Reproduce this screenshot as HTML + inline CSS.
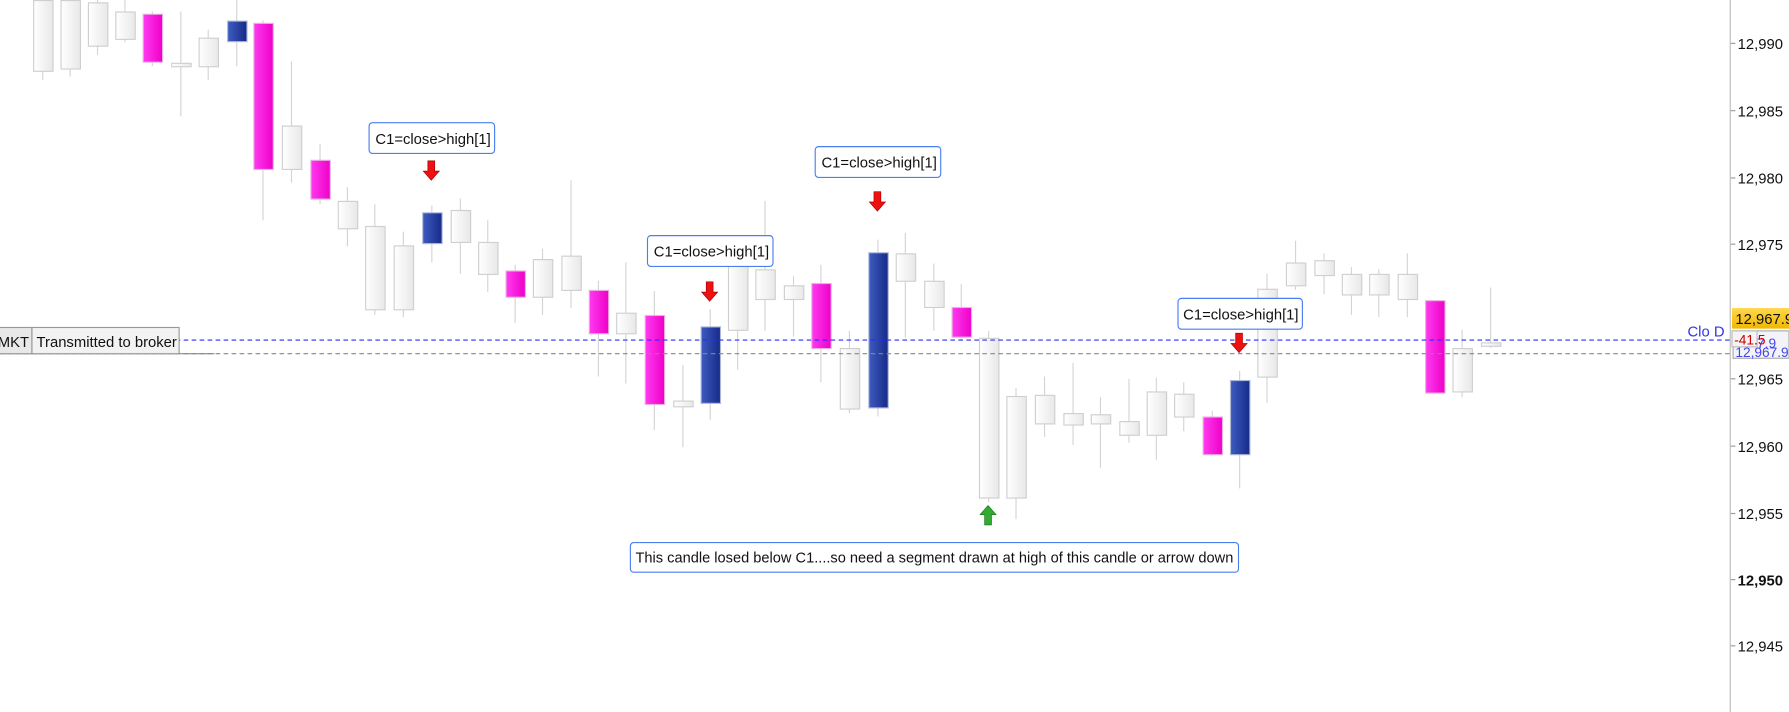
<!DOCTYPE html>
<html><head><meta charset="utf-8"><style>
html,body{margin:0;padding:0;background:#fff;overflow:hidden}
svg{display:block;font-family:"Liberation Sans",Arial,sans-serif}
</style></head><body>
<svg id="s" width="1789" height="712" viewBox="0 0 1568 624" preserveAspectRatio="none" xmlns="http://www.w3.org/2000/svg">
<defs>
<linearGradient id="gw" x1="0" x2="1"><stop offset="0" stop-color="#ffffff"/><stop offset="1" stop-color="#e8e8e8"/></linearGradient>
<linearGradient id="gm" x1="0" x2="1"><stop offset="0" stop-color="#ff3af0"/><stop offset="1" stop-color="#ee00c8"/></linearGradient>
<linearGradient id="gb" x1="0" x2="1"><stop offset="0" stop-color="#3d5cc0"/><stop offset="1" stop-color="#162a88"/></linearGradient>
<linearGradient id="gy" x1="0" x2="0" y1="0" y2="1"><stop offset="0" stop-color="#ffd84a"/><stop offset="1" stop-color="#f0b800"/></linearGradient>
</defs>
<rect width="1568" height="624" fill="#fff"/>
<g id="c"></g>
<line x1="0" y1="298" x2="1517" y2="298" stroke="#2a2aff" stroke-dasharray="4,3" stroke-width="1"/>
<line x1="0" y1="310" x2="1517" y2="310" stroke="#888" stroke-dasharray="4,3" stroke-width="1"/>
<line x1="0" y1="310" x2="188" y2="310" stroke="#888" stroke-width="1"/>
<text x="1479" y="295" font-size="13" fill="#3333ee">Clo D</text>
<rect x="-4" y="287" width="32" height="23" fill="#e8e8e8" stroke="#999"/>
<text x="-2" y="304" font-size="13" fill="#111">MKT</text>
<rect x="28" y="287" width="129" height="23" fill="#f2f2f2" stroke="#999"/>
<text x="32" y="304" font-size="13" fill="#111">Transmitted to broker</text>
<line x1="1516.5" y1="0" x2="1516.5" y2="624" stroke="#bbb"/>
<g font-size="13" fill="#111" id="ax"></g>
<rect x="1518" y="270" width="50" height="18" fill="url(#gy)"/>
<text x="1521" y="284" font-size="13" fill="#111">12,967.9</text>
<rect x="1519" y="290" width="49" height="24" fill="#f4f4f8" stroke="#aaa"/>
<text x="1540" y="305" font-size="12" fill="#4444ee">7.9</text>
<text x="1521" y="313" font-size="12" fill="#4444ee">12,967.9</text>
<rect x="1518" y="290" width="22" height="14" fill="#f4f4f4" stroke="#bbb"/>
<text x="1520" y="302" font-size="12" fill="#cc0000">-41.5</text>
<g font-size="13" fill="#111">
<rect x="323.5" y="107.5" width="110" height="27" rx="3" fill="#fff" stroke="#4a7ff0"/><text x="329" y="126">C1=close&gt;high[1]</text>
<rect x="714.5" y="128.5" width="110" height="27" rx="3" fill="#fff" stroke="#4a7ff0"/><text x="720" y="147">C1=close&gt;high[1]</text>
<rect x="567.5" y="206.5" width="110" height="27" rx="3" fill="#fff" stroke="#4a7ff0"/><text x="573" y="225">C1=close&gt;high[1]</text>
<rect x="1032.5" y="261.5" width="109" height="27" rx="3" fill="#fff" stroke="#4a7ff0"/><text x="1037" y="280">C1=close&gt;high[1]</text>
<rect x="552.5" y="475.5" width="533" height="26" rx="3" fill="#fff" stroke="#4a7ff0"/><text x="557" y="493" textLength="524" lengthAdjust="spacingAndGlyphs">This candle losed below C1....so need a segment drawn at high of this candle or arrow down</text>
</g>
<g id="ar"></g>
</svg>
<script>
var C=[[37,0,62,-5,70,'w'],[61,0,60,-5,67,'w'],[85,2,40,-5,48,'w'],[109,10,34,0,37,'w'],[133,12,54,10,58,'m'],[158,55,58,10,102,'w'],[182,33,58,26,70,'w'],[207,18,36,0,58,'b'],[230,20,148,18,193,'m'],[255,110,148,54,160,'w'],[280,140,174,126,179,'m'],[304,176,200,164,216,'w'],[328,198,271,179,276,'w'],[353,215,271,203,278,'w'],[378,186,213,180,230,'b'],[403,184,212,174,240,'w'],[427,212,240,193,256,'w'],[451,237,260,232,283,'m'],[475,227,260,218,276,'w'],[500,224,254,158,270,'w'],[524,254,292,246,330,'m'],[548,274,292,230,336,'w'],[573,276,354,255,377,'m'],[598,351,356,320,392,'w'],[622,286,353,271,368,'b'],[646,233,289,222,324,'w'],[670,236,262,176,290,'w'],[695,250,262,242,295,'w'],[719,248,305,232,335,'m'],[744,305,358,290,362,'w'],[769,221,357,210,365,'b'],[793,222,246,204,296,'w'],[818,246,269,231,290,'w'],[842,269,295,249,298,'m'],[866,296,436,290,440,'w'],[890,347,436,340,455,'w'],[915,346,371,330,383,'w'],[940,362,372,318,390,'w'],[964,363,371,348,410,'w'],[989,369,381,332,388,'w'],[1013,343,381,331,403,'w'],[1037,345,365,335,378,'w'],[1062,365,398,360,400,'m'],[1086,333,398,325,428,'b'],[1110,253,330,240,353,'w'],[1135,230,250,211,254,'w'],[1160,228,241,222,258,'w'],[1184,240,258,234,276,'w'],[1208,240,258,236,278,'w'],[1233,240,262,222,278,'w'],[1257,263,344,263,344,'m'],[1281,305,343,289,348,'w'],[1306,300,303,252,305,'w']];
var h='';
C.forEach(function(c){var x=c[0];h+='<line x1="'+x+'.5" y1="'+c[3]+'" x2="'+x+'.5" y2="'+c[4]+'" stroke="#d4d4d4"/>';
var st=c[5]=='w'?'#cfcfcf':(c[5]=='m'?'#e8b0e0':'#b0b8d8');
h+='<rect x="'+(x-8)+'.5" y="'+c[1]+'.5" width="17" height="'+Math.max(2,c[2]-c[1])+'" fill="url(#g'+c[5]+')" stroke="'+st+'"/>';});
document.getElementById('c').innerHTML=h;
var a='',L=[[12990,38],[12985,97],[12980,156],[12975,214],[12970,273],[12965,332],[12960,391],[12955,450],[12950,508],[12945,566]];
L.forEach(function(l){if(l[0]==12970)return;a+='<line x1="1517" y1="'+l[1]+'" x2="1521" y2="'+l[1]+'" stroke="#999"/><text x="1523" y="'+(l[1]+5)+'"'+(l[0]==12950?' font-weight="bold"':'')+'>'+(l[0]+'').replace(/(\d\d)(\d\d\d)/,'$1,$2')+'</text>';});
document.getElementById('ax').innerHTML=a;
function dn(x,y){return '<path d="M'+(x-3)+' '+y+'h6v9h4l-7,8l-7,-8h4z" fill="#ee1111" stroke="#aa0000" stroke-width="0.6"/>';}
var r=dn(378,141)+dn(769,168)+dn(622,247)+dn(1086,292);
r+='<path d="M863 460v-9h-4l7,-8l7,8h-4v9z" fill="#33aa33" stroke="#1a7a1a" stroke-width="0.6"/>';
document.getElementById('ar').innerHTML=r;
</script>
</body></html>
